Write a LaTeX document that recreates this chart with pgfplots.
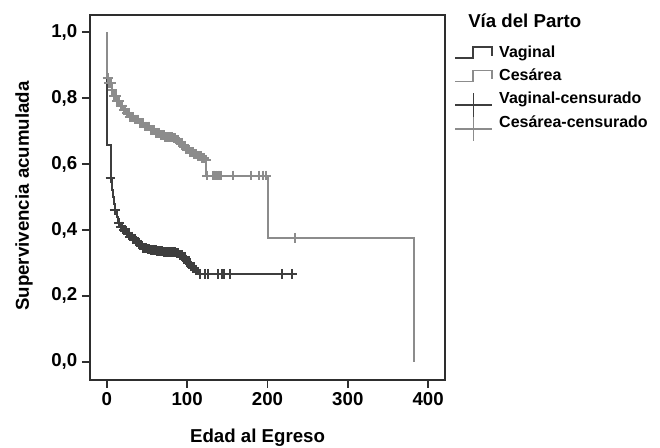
\documentclass[border=0pt]{standalone}
\usepackage{fontspec}
\setmainfont{Liberation Sans}
\usepackage{pgfplots}
\pgfplotsset{compat=1.18}
\definecolor{darkc}{HTML}{3E3E3E}
\definecolor{grayc}{HTML}{8C8C8C}
\definecolor{framec}{HTML}{2E2E2E}
\newcommand{\ff}{\fontsize{14}{16}\selectfont\bfseries}
\newcommand{\fl}{\fontsize{12}{14}\selectfont\bfseries}
\pgfplotsset{
  steplegend/.style={legend image code/.code={\path[draw=none,fill=none] (0pt,-3pt) rectangle (32pt,3pt); \draw[##1, overlay] (0pt,-3.75pt) -- (13.5pt,-3.75pt) -- (13.5pt,4.5pt) -- (27.5pt,4.5pt) -- (27.5pt,-2pt);}},
  crosslegend/.style={legend image code/.code={\path[draw=none,fill=none] (0pt,-3pt) rectangle (32pt,3pt); \draw[##1, overlay] (0pt,-4pt) -- (27.5pt,-4pt); \draw[##1, overlay] (13.75pt,-13pt) -- (13.75pt,5pt);}},
}
\begin{document}
\begin{tikzpicture}
\begin{axis}[
  at={(0,0)}, anchor=south west,
  scale only axis, width=266.25pt, height=273.75pt,
  xmin=-21, xmax=421, ymin=-0.055, ymax=1.052,
  xtick={0,100,200,300,400}, ytick={0,0.2,0.4,0.6,0.8,1.0},
  tick align=outside, xtick pos=bottom, ytick pos=left,
  major tick length=6pt,
  axis line style={line width=1.3pt, color=framec},
  every tick/.style={line width=1.3pt, color=framec},
  /pgf/number format/assume math mode=true,
  ticklabel style={font=\ff},
  yticklabel style={/pgf/number format/.cd, fixed, fixed zerofill, precision=1, use comma},
  xticklabel style={/pgf/number format/.cd, fixed, precision=0},
  xlabel={Edad al Egreso}, ylabel={Supervivencia acumulada},
  every axis x label/.style={at={(axis description cs:0.472,-0.159)}, anchor=center, font=\ff},
  every axis y label/.style={at={(axis description cs:-0.186,0.504)}, anchor=center, rotate=90, font=\ff},
  legend style={at={(axis description cs:1.028,0.922)}, anchor=north west, draw=none, fill=none,
    font=\fl, inner sep=0pt, row sep=3.6pt, nodes={text height=9pt, text depth=3pt, inner sep=1pt}},
  legend cell align=left,
]
% Vaginal
\addplot[forget plot, const plot, darkc, line width=1.5pt] coordinates {
(0,1.0) (0,0.657) (4.6,0.557) (6,0.52) (7.5,0.50) (9,0.48) (10,0.46) (12,0.44) (14,0.42)
(17,0.41) (20,0.40) (25,0.39) (29,0.38) (33,0.372) (37,0.364) (41,0.355) (45,0.345)
(50,0.342) (54,0.34) (62,0.336) (70,0.333) (87,0.33) (91,0.324) (95,0.318) (98,0.31)
(101,0.30) (104,0.292) (107,0.285) (110,0.278) (113,0.267) (232,0.267)};
% Cesarea
\addplot[forget plot, const plot, grayc, line width=1.5pt] coordinates {
(0,1.0) (0,0.86) (3,0.845) (6,0.825) (9,0.805) (12,0.79) (16,0.775) (20,0.765) (24,0.755)
(29,0.742) (34,0.735) (41,0.724) (47,0.714) (54,0.703) (60,0.695) (66,0.688) (72,0.682)
(82,0.679) (86,0.672) (91,0.664) (95,0.655) (99,0.645) (103,0.636) (108,0.630) (113,0.624)
(118,0.618) (122,0.612) (124,0.565) (200,0.376) (382,0.0)};
% Vaginal censored
\addplot[forget plot, only marks, mark=+, mark size=3.7pt, darkc, mark options={line width=1.5pt}] coordinates {
(4.6,0.557) (10,0.46) (15,0.42) (17,0.41) (19,0.41) (21,0.40) (23,0.40) (25,0.39) (27,0.39)
(29,0.38) (31,0.38) (33,0.372) (35,0.372) (37,0.364) (39,0.364) (41,0.355) (43,0.355)
(45,0.345) (47,0.345) (49,0.345) (51,0.342) (53,0.342) (55,0.34) (57,0.34) (59,0.34) (61,0.34)
(63,0.336) (65,0.336) (67,0.336) (69,0.336) (71,0.333) (73,0.333) (75,0.333) (77,0.333)
(79,0.333) (81,0.333) (83,0.333) (85,0.333) (87,0.33) (89,0.33) (91,0.324) (93,0.324)
(95,0.318) (97,0.318) (99,0.31) (101,0.30) (103,0.30) (105,0.292) (107,0.285) (109,0.285)
(111,0.278) (116,0.267) (122,0.267) (126,0.267) (138,0.267) (143,0.267) (146,0.267)
(153,0.267) (218,0.267) (231,0.267)};
% Cesarea censored
\addplot[forget plot, only marks, mark=+, mark size=3.7pt, grayc, mark options={line width=1.5pt}] coordinates {
(1,0.86) (3,0.845) (5,0.845) (7,0.825) (9,0.805) (11,0.805) (13,0.79) (15,0.79) (17,0.775)
(19,0.775) (21,0.765) (23,0.765) (25,0.755) (27,0.755) (29,0.742) (31,0.742) (33,0.742)
(35,0.735) (37,0.735) (39,0.735) (41,0.724) (43,0.724) (45,0.724) (47,0.714) (49,0.714)
(51,0.714) (53,0.714) (55,0.703) (57,0.703) (59,0.703) (61,0.695) (63,0.695) (65,0.695)
(67,0.688) (69,0.688) (71,0.688) (73,0.682) (75,0.682) (77,0.682) (79,0.682) (81,0.682)
(83,0.679) (85,0.679) (87,0.672) (89,0.672) (91,0.664) (93,0.664) (95,0.655) (97,0.655)
(99,0.645) (101,0.645) (103,0.636) (105,0.636) (107,0.636) (109,0.630) (111,0.630)
(113,0.624) (115,0.624) (117,0.624) (119,0.618) (121,0.618) (123,0.612)
(125,0.565) (132,0.565) (134,0.565) (136,0.565) (138,0.565) (140,0.565) (142,0.565)
(157,0.565) (179,0.565) (189,0.565) (194,0.565) (198,0.565) (234,0.376)};
% legend
\addlegendimage{darkc, line width=1.3pt, steplegend}
\addlegendentry{Vaginal}
\addlegendimage{grayc, line width=1.3pt, steplegend}
\addlegendentry{Cesárea}
\addlegendimage{darkc, line width=1.3pt, crosslegend}
\addlegendentry{Vaginal-censurado}
\addlegendimage{grayc, line width=1.3pt, crosslegend}
\addlegendentry{Cesárea-censurado}
\end{axis}
\node[anchor=west, font=\ff, inner sep=0pt] at (283.5pt,269.25pt) {Vía del Parto};
\pgfresetboundingbox
\path (-67.5pt,-51pt) rectangle (427.5pt,285pt);
\end{tikzpicture}
\end{document}
